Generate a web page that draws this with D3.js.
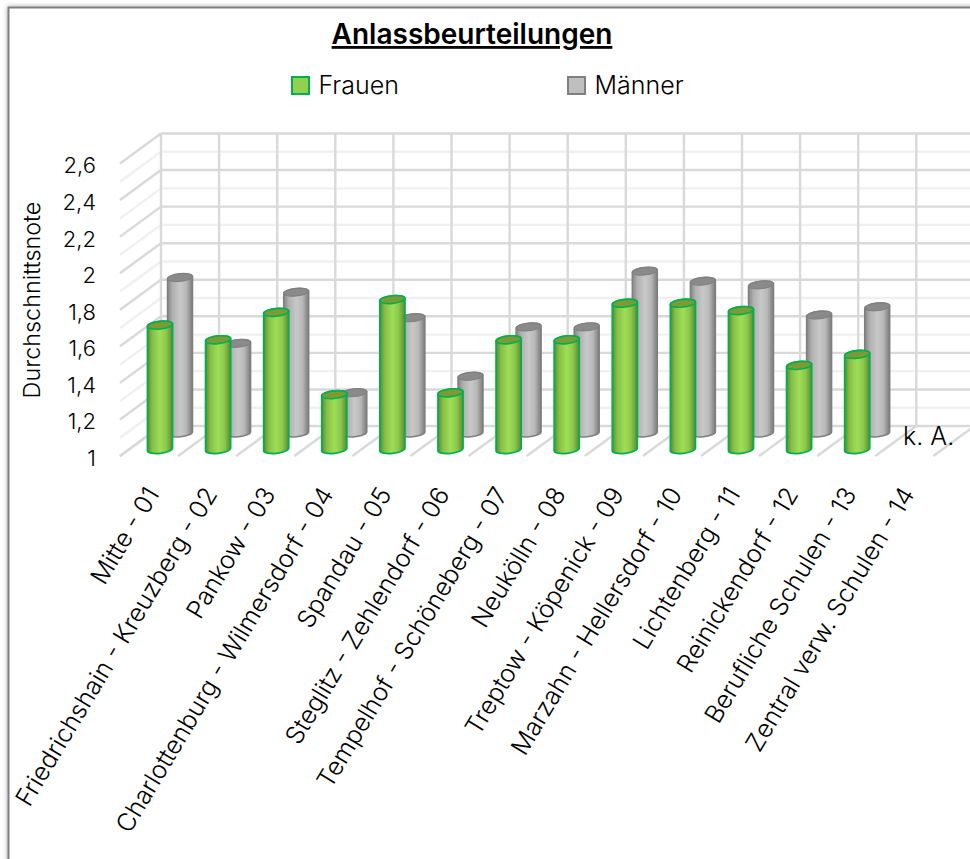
<!DOCTYPE html>
<html><head><meta charset="utf-8">
<script src="https://cdn.jsdelivr.net/npm/d3@7/dist/d3.min.js"></script>
<style>html,body{margin:0;padding:0;background:#fff;overflow:hidden}svg{display:block}text{font-family:Inter,Lato,sans-serif;fill:#000;font-weight:350}</style>
</head><body><svg id="c" width="970" height="859"></svg>
<script>
const categories=["Mitte - 01","Friedrichshain - Kreuzberg - 02","Pankow - 03","Charlottenburg - Wilmersdorf - 04","Spandau - 05","Steglitz - Zehlendorf - 06","Tempelhof - Schöneberg - 07","Neukölln - 08","Treptow - Köpenick - 09","Marzahn - Hellersdorf - 10","Lichtenberg - 11","Reinickendorf - 12","Berufliche Schulen - 13","Zentral verw. Schulen - 14"];
const frauen=[1.68,1.60,1.75,1.30,1.82,1.31,1.60,1.60,1.80,1.80,1.76,1.46,1.52,null];
const maenner=[1.85,1.49,1.77,1.22,1.63,1.31,1.58,1.58,1.885,1.83,1.81,1.645,1.69,null];
const yTicks=[1,1.2,1.4,1.6,1.8,2,2.2,2.4,2.6];
const gridValues=d3.range(0,17).map(i=>1+i/10);
const svg=d3.select("#c");
const defs=svg.append("defs");
function grad(id,stops){const g=defs.append("linearGradient").attr("id",id).attr("x1",0).attr("x2",1).attr("y1",0).attr("y2",0);
 stops.forEach(s=>g.append("stop").attr("offset",s[0]).attr("stop-color",s[1]));}
grad("gF",[[0,"#5f8a30"],[.2,"#86c048"],[.5,"#9ede56"],[.75,"#8cc84c"],[1,"#5f8a30"]]);
grad("gM",[[0,"#858585"],[.2,"#b0b0b0"],[.5,"#c8c8c8"],[.75,"#b8b8b8"],[1,"#7a7a7a"]]);
const f=defs.append("filter").attr("id","sh").attr("x","-5%").attr("y","-5%").attr("width","110%").attr("height","110%");
f.append("feDropShadow").attr("dx",0).attr("dy",0).attr("stdDeviation",2.5).attr("flood-color","#000").attr("flood-opacity",.35);
svg.append("rect").attr("x",8.5).attr("y",7.5).attr("width",1000).attr("height",900).attr("fill","#fff").attr("stroke","#7f7f7f").attr("stroke-width",2).attr("filter","url(#sh)");

const depthX=41, step=58.1, frontX0=120;
const xFront=d3.scaleBand().domain(categories).range([frontX0,frontX0+step*14]).padding(0);
const yWall=d3.scaleLinear().domain([1,2.6]).range([426,133.5]);
const yFront=d3.scaleLinear().domain([1,2.6]).range([456,163.5]);
const yF=d3.scaleLinear().domain([1,2.6]).range([449.5,157]);
const yM=d3.scaleLinear().domain([1,2.6]).range([433,140.5]);
const isMajor=v=>Math.round((v-1)*10)%2===0;
const grid=svg.append("g");
[...gridValues].sort((a,b)=>isMajor(a)-isMajor(b)).forEach(v=>{
 const col=isMajor(v)?"#d9d9d9":"#f0f0f0", w=2.4;
 grid.append("line").attr("x1",frontX0+depthX).attr("x2",975).attr("y1",yWall(v)).attr("y2",yWall(v)).attr("stroke",col).attr("stroke-width",w);
 grid.append("line").attr("x1",frontX0).attr("x2",frontX0+depthX).attr("y1",yFront(v)).attr("y2",yWall(v)).attr("stroke",col).attr("stroke-width",w);
});
d3.range(0,15).forEach(i=>{
 const x=frontX0+i*step;
 grid.append("line").attr("x1",x+depthX).attr("x2",x+depthX).attr("y1",yWall(2.6)).attr("y2",yWall(1)).attr("stroke","#d9d9d9").attr("stroke-width",2.4);
 grid.append("line").attr("x1",x).attr("x2",x+depthX).attr("y1",yFront(1)).attr("y2",yWall(1)).attr("stroke","#d9d9d9").attr("stroke-width",2.4);
});
const rx=12.5, ry=3.8, tilt=1.3;
function body(cx,yt,yb){
 return `M${cx-rx},${yt+tilt}L${cx-rx},${yb+tilt}A${rx},${ry} -6 0 0 ${cx+rx},${yb-tilt}L${cx+rx},${yt-tilt}A${rx},${ry} -6 0 0 ${cx-rx},${yt+tilt}Z`;
}
function topE(cx,yt){
 return `M${cx-rx},${yt+tilt}A${rx},${ry} -6 0 0 ${cx+rx},${yt-tilt}A${rx},${ry} -6 0 0 ${cx-rx},${yt+tilt}Z`;
}
const marks=svg.append("g");
categories.forEach((c,i)=>{
 const left=xFront(c);
 if(maenner[i]!=null){
  const cx=left+60;
  marks.append("path").attr("d",body(cx,yM(maenner[i]),yM(1))).attr("fill","url(#gM)").attr("stroke","#7f7f7f").attr("stroke-width",1.5);
  marks.append("path").attr("d",topE(cx,yM(maenner[i]))).attr("fill","#8a8a8a").attr("stroke","#7f7f7f").attr("stroke-width",1);
 }
 if(frauen[i]!=null){
  const cx=left+40;
  marks.append("path").attr("d",body(cx,yF(frauen[i]),yF(1))).attr("fill","url(#gF)").attr("stroke","#00b050").attr("stroke-width",1.8);
  marks.append("path").attr("d",topE(cx,yF(frauen[i]))).attr("fill","#7d9b33").attr("stroke","#00b050").attr("stroke-width",1.6);
 }
});
const yAxis=d3.axisLeft(yFront).tickValues(yTicks).tickSize(0).tickPadding(0).tickFormat(d=>String(d).replace(".",","));
const gy=svg.append("g").attr("transform","translate(96,1.5)").call(yAxis);
gy.select(".domain").remove();
gy.selectAll("text").style("font-size","22px").style("font-family","Inter,Lato,sans-serif").attr("dy","0.36em").attr("x",0).style("fill","#000");
const xAxis=d3.axisBottom(xFront).tickSize(0).tickPadding(0);
const gx=svg.append("g").attr("transform","translate(0,480)").call(xAxis);
gx.select(".domain").remove();
gx.selectAll("text").style("font-size","25px").style("font-family","Inter,Lato,sans-serif").style("fill","#000").attr("text-anchor","end").attr("dy",0).attr("y",0).attr("x",0)
 .attr("transform","translate(11,14) rotate(-59)");
svg.append("text").attr("x",472).attr("y",44).attr("text-anchor","middle").style("font-size","28px").style("font-weight",600).style("text-decoration","underline").text("Anlassbeurteilungen");
svg.append("text").attr("transform","translate(40,300) rotate(-90)").attr("text-anchor","middle").style("font-size","23.4px").text("Durchschnittsnote");
svg.append("text").attr("x",903).attr("y",445).style("font-size","25px").text("k. A.");
const legendItems=[["Frauen",292,"#92d050","#00b050"],["Männer",568,"#bfbfbf","#7f7f7f"]];
legendItems.forEach(d=>{
 svg.append("rect").attr("x",d[1]).attr("y",77).attr("width",17).attr("height",17).attr("fill",d[2]).attr("stroke",d[3]).attr("stroke-width",2);
 svg.append("text").attr("x",d[1]+26.5).attr("y",94).style("font-size","25px").text(d[0]);
});
</script></body></html>
